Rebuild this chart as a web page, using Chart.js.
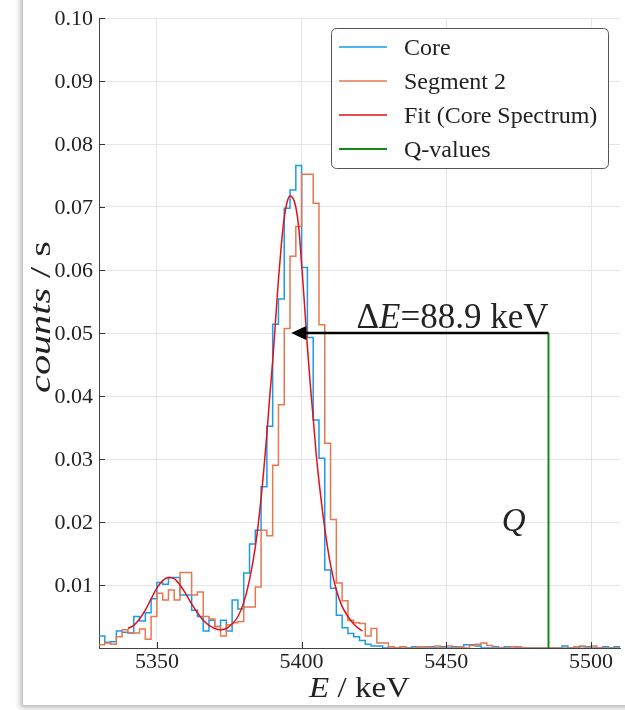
<!DOCTYPE html>
<html>
<head>
<meta charset="utf-8">
<script src="https://cdn.jsdelivr.net/npm/chart.js@4.4.1/dist/chart.umd.min.js"></script>
<style>
  html, body { margin: 0; padding: 0; background: #fff; overflow: hidden; }
  #frame { position: absolute; left: 22px; top: -10px; width: 640px; height: 714px;
           border: 1px solid #c4c4c4; box-shadow: -2px 2px 5px rgba(0,0,0,0.25); background: #fff; }
  #wrap { position: absolute; left: 0; top: 0; width: 625px; height: 710px; }
</style>
</head>
<body>
<div id="frame"></div>
<div id="wrap"><canvas id="spectrum"></canvas></div>
<script>
// 2 keV bins starting at 5330 keV
const binLow = 5330;
const binWidth = 2;

// count rates per bin (counts / s)
const coreRate = [
  0.0019, 0.0009, 0.0010, 0.0027, 0.0025, 0.0024, 0.0050, 0.0043, 0.0056, 0.0078,
  0.0104, 0.0101, 0.0112, 0.0112, 0.0084, 0.0084, 0.0060, 0.0050, 0.0027, 0.0044,
  0.0034, 0.0044, 0.0027, 0.0076, 0.0062, 0.0119, 0.0165, 0.0187, 0.0256, 0.0352,
  0.0514, 0.0554, 0.0698, 0.0727, 0.0766, 0.0604, 0.0493, 0.0362, 0.0301, 0.0124,
  0.0095, 0.0052, 0.0032, 0.0023, 0.0018, 0.0012, 0.0006, 0.0003, 0.0003, 0.0000,
  0.0002, 0.0000, 0.0002, 0.0000, 0.0002, 0.0000, 0.0000, 0.0002, 0.0000, 0.0002,
  0.0000, 0.0002, 0.0000, 0.0005, 0.0005, 0.0003, 0.0000, 0.0000, 0.0002, 0.0000,
  0.0002, 0.0002, 0.0000, 0.0000, 0.0000, 0.0000, 0.0000, 0.0000, 0.0000, 0.0000,
  0.0003, 0.0000, 0.0000, 0.0002, 0.0002, 0.0000, 0.0000, 0.0002, 0.0000, 0.0002
];
const seg2Rate = [
  0.0005, 0.0008, 0.0006, 0.0018, 0.0029, 0.0024, 0.0024, 0.0030, 0.0014, 0.0050,
  0.0087, 0.0076, 0.0092, 0.0076, 0.0120, 0.0120, 0.0084, 0.0089, 0.0050, 0.0046,
  0.0034, 0.0019, 0.0037, 0.0040, 0.0042, 0.0065, 0.0065, 0.0097, 0.0187, 0.0178,
  0.0290, 0.0386, 0.0507, 0.0622, 0.0669, 0.0752, 0.0752, 0.0706, 0.0513, 0.0325,
  0.0204, 0.0103, 0.0075, 0.0044, 0.0040, 0.0039, 0.0019, 0.0031, 0.0008, 0.0008,
  0.0002, 0.0000, 0.0002, 0.0000, 0.0000, 0.0002, 0.0002, 0.0000, 0.0003, 0.0000,
  0.0003, 0.0000, 0.0002, 0.0000, 0.0004, 0.0006, 0.0008, 0.0004, 0.0000, 0.0000,
  0.0000, 0.0002, 0.0002, 0.0000, 0.0000, 0.0000, 0.0000, 0.0000, 0.0000, 0.0000,
  0.0000, 0.0000, 0.0002, 0.0003, 0.0000, 0.0003, 0.0000, 0.0000, 0.0000, 0.0000
];

// fitted core spectrum
const fitEnergy = [
  5340, 5342, 5344, 5346, 5348, 5350, 5352, 5354, 5356, 5358,
  5360, 5362, 5364, 5366, 5368, 5370, 5372, 5374, 5376, 5378,
  5380, 5382, 5384, 5386, 5388, 5389, 5390, 5391, 5392, 5393,
  5394, 5395, 5396, 5397, 5398, 5399, 5400, 5401, 5402, 5403,
  5404, 5405, 5406, 5408, 5410, 5412, 5414, 5416, 5418, 5420, 5421
];
const fitRate = [
  0.0031, 0.0036, 0.0046, 0.0060, 0.0078, 0.0095, 0.0107, 0.0112, 0.0110, 0.0100,
  0.0086, 0.0070, 0.0056, 0.0044, 0.0036, 0.0031, 0.0029, 0.0031, 0.0038, 0.0050,
  0.0072, 0.0108, 0.0160, 0.0238, 0.0340, 0.0400, 0.0455, 0.0520, 0.0585, 0.0640,
  0.0683, 0.0708, 0.0718, 0.0714, 0.0700, 0.0668, 0.0610, 0.0545, 0.0478, 0.0418,
  0.0365, 0.0310, 0.0265, 0.0190, 0.0132, 0.0092, 0.0066, 0.0050, 0.0038, 0.0030, 0.0027
];

const xTicks = [5350, 5400, 5450, 5500];
const yTicks = [0.01, 0.02, 0.03, 0.04, 0.05, 0.06, 0.07, 0.08, 0.09, 0.10];

const qValue = 5485.3;   // keV
const deltaE = 88.9;     // keV, distance from Q to the fitted peak
const arrowRate = 0.05;

const SERIF = '"Liberation Serif", "Times New Roman", serif';
const INK = '#222';

function histPoints(rates) {
  const pts = rates.map((r, i) => ({ x: binLow + i * binWidth, y: r }));
  pts.push({ x: binLow + rates.length * binWidth, y: rates[rates.length - 1] });
  return pts;
}

// draws a row of differently styled text pieces, optionally stretched along the text
function drawRuns(ctx, runs, x, y, align, stretch) {
  stretch = stretch || 1;
  let total = 0;
  runs.forEach(r => { ctx.font = r.font; total += ctx.measureText(r.text).width; });
  ctx.save();
  ctx.translate(x, y);
  ctx.scale(stretch, 1);
  let cx = align === 'right' ? -total : align === 'center' ? -total / 2 : 0;
  ctx.textAlign = 'left';
  runs.forEach(r => {
    ctx.font = r.font;
    ctx.fillText(r.text, cx, 0);
    cx += ctx.measureText(r.text).width;
  });
  ctx.restore();
}

const decorations = {
  id: 'decorations',
  afterDraw(chart) {
    const ctx = chart.ctx;
    const area = chart.chartArea;
    const xs = chart.scales.x, ys = chart.scales.y;
    ctx.save();

    // inward tick marks
    ctx.strokeStyle = '#333';
    ctx.lineWidth = 1;
    ctx.beginPath();
    yTicks.forEach(v => {
      const py = Math.round(ys.getPixelForValue(v)) + 0.5;
      ctx.moveTo(area.left, py); ctx.lineTo(area.left + 6, py);
    });
    xTicks.forEach(v => {
      const px = Math.round(xs.getPixelForValue(v)) + 0.5;
      ctx.moveTo(px, area.bottom); ctx.lineTo(px, area.bottom - 6);
    });
    ctx.stroke();

    // tick labels
    ctx.fillStyle = INK;
    ctx.font = '22px ' + SERIF;
    ctx.textBaseline = 'alphabetic';
    ctx.textAlign = 'right';
    yTicks.forEach(v => ctx.fillText(v.toFixed(2), area.left - 6, ys.getPixelForValue(v) + 7));
    ctx.textAlign = 'center';
    xTicks.forEach(v => ctx.fillText(String(v), xs.getPixelForValue(v), area.bottom + 20));

    // axis titles
    drawRuns(ctx, [
      { text: 'E', font: 'italic 30px ' + SERIF },
      { text: ' / keV', font: '30px ' + SERIF }
    ], (area.left + area.right) / 2, area.bottom + 49, 'center', 1.1);
    ctx.save();
    ctx.translate(50, 317);
    ctx.rotate(-Math.PI / 2);
    drawRuns(ctx, [
      { text: 'counts', font: 'italic 30px ' + SERIF },
      { text: ' / s', font: '30px ' + SERIF }
    ], 0, 0, 'center', 1.34);
    ctx.restore();

    // arrow from the Q-value back to the peak
    const qx = xs.getPixelForValue(qValue);
    const tipX = xs.getPixelForValue(qValue - deltaE);
    const ay = ys.getPixelForValue(arrowRate);
    ctx.strokeStyle = '#000';
    ctx.fillStyle = '#000';
    ctx.lineWidth = 2.5;
    ctx.beginPath();
    ctx.moveTo(qx, ay);
    ctx.lineTo(tipX + 10, ay);
    ctx.stroke();
    ctx.beginPath();
    ctx.moveTo(tipX, ay);
    ctx.lineTo(tipX + 15, ay - 7);
    ctx.lineTo(tipX + 15, ay + 7);
    ctx.closePath();
    ctx.fill();

    ctx.fillStyle = INK;
    drawRuns(ctx, [
      { text: '\u0394', font: '35px ' + SERIF },
      { text: 'E', font: 'italic 35px ' + SERIF },
      { text: '=' + deltaE + ' keV', font: '35px ' + SERIF }
    ], qx, ay - 5, 'right', 1);

    ctx.font = 'italic 33px ' + SERIF;
    ctx.textAlign = 'center';
    ctx.textBaseline = 'middle';
    ctx.fillText('Q', xs.getPixelForValue(qValue - 12), ys.getPixelForValue(0.02));

    // legend box
    const bx = area.right - 289, by = area.top + 10, bw = 277, bh = 140;
    ctx.beginPath();
    ctx.roundRect(bx + 0.5, by + 0.5, bw, bh, 5);
    ctx.fillStyle = '#fff';
    ctx.fill();
    ctx.strokeStyle = '#555';
    ctx.lineWidth = 1;
    ctx.stroke();
    ctx.textAlign = 'left';
    ctx.textBaseline = 'alphabetic';
    chart.data.datasets.forEach((ds, i) => {
      const ry = by + 19 + i * 34;
      ctx.strokeStyle = ds.borderColor;
      ctx.lineWidth = ds.borderWidth;
      ctx.beginPath();
      ctx.moveTo(bx + 8, ry);
      ctx.lineTo(bx + 56, ry);
      ctx.stroke();
      ctx.fillStyle = INK;
      ctx.font = '24px ' + SERIF;
      ctx.fillText(ds.label, bx + 73, ry + 8);
    });

    ctx.restore();
  }
};

new Chart(document.getElementById('spectrum'), {
  type: 'line',
  data: {
    datasets: [
      {
        label: 'Core',
        data: histPoints(coreRate),
        borderColor: '#1a9ce8',
        borderWidth: 1.5,
        stepped: true,
        pointRadius: 0,
        order: 4
      },
      {
        label: 'Segment 2',
        data: histPoints(seg2Rate),
        borderColor: '#e5784f',
        borderWidth: 1.5,
        stepped: true,
        pointRadius: 0,
        order: 3
      },
      {
        label: 'Fit (Core Spectrum)',
        data: fitEnergy.map((e, i) => ({ x: e, y: fitRate[i] })),
        borderColor: '#e3101c',
        borderWidth: 1.5,
        cubicInterpolationMode: 'monotone',
        pointRadius: 0,
        order: 2
      },
      {
        label: 'Q-values',
        data: [{ x: qValue, y: 0 }, { x: qValue, y: arrowRate }],
        borderColor: '#138a13',
        borderWidth: 2,
        pointRadius: 0,
        order: 1
      }
    ]
  },
  options: {
    responsive: true,
    maintainAspectRatio: false,
    animation: false,
    layout: { padding: { left: 99, right: 5, top: 18, bottom: 62 }, autoPadding: false },
    plugins: {
      legend: { display: false },
      tooltip: { enabled: false }
    },
    scales: {
      x: {
        type: 'linear',
        min: 5330,
        max: 5510,
        afterBuildTicks: s => { s.ticks = xTicks.map(v => ({ value: v })); },
        ticks: { display: false },
        grid: { color: '#e6e6e6', lineWidth: 1, drawTicks: false },
        border: { color: '#444', width: 1 }
      },
      y: {
        type: 'linear',
        min: 0,
        max: 0.1,
        afterBuildTicks: s => { s.ticks = yTicks.map(v => ({ value: v })); },
        ticks: { display: false },
        grid: { color: '#e6e6e6', lineWidth: 1, drawTicks: false },
        border: { color: '#444', width: 1 }
      }
    }
  },
  plugins: [decorations]
});
</script>
</body>
</html>
